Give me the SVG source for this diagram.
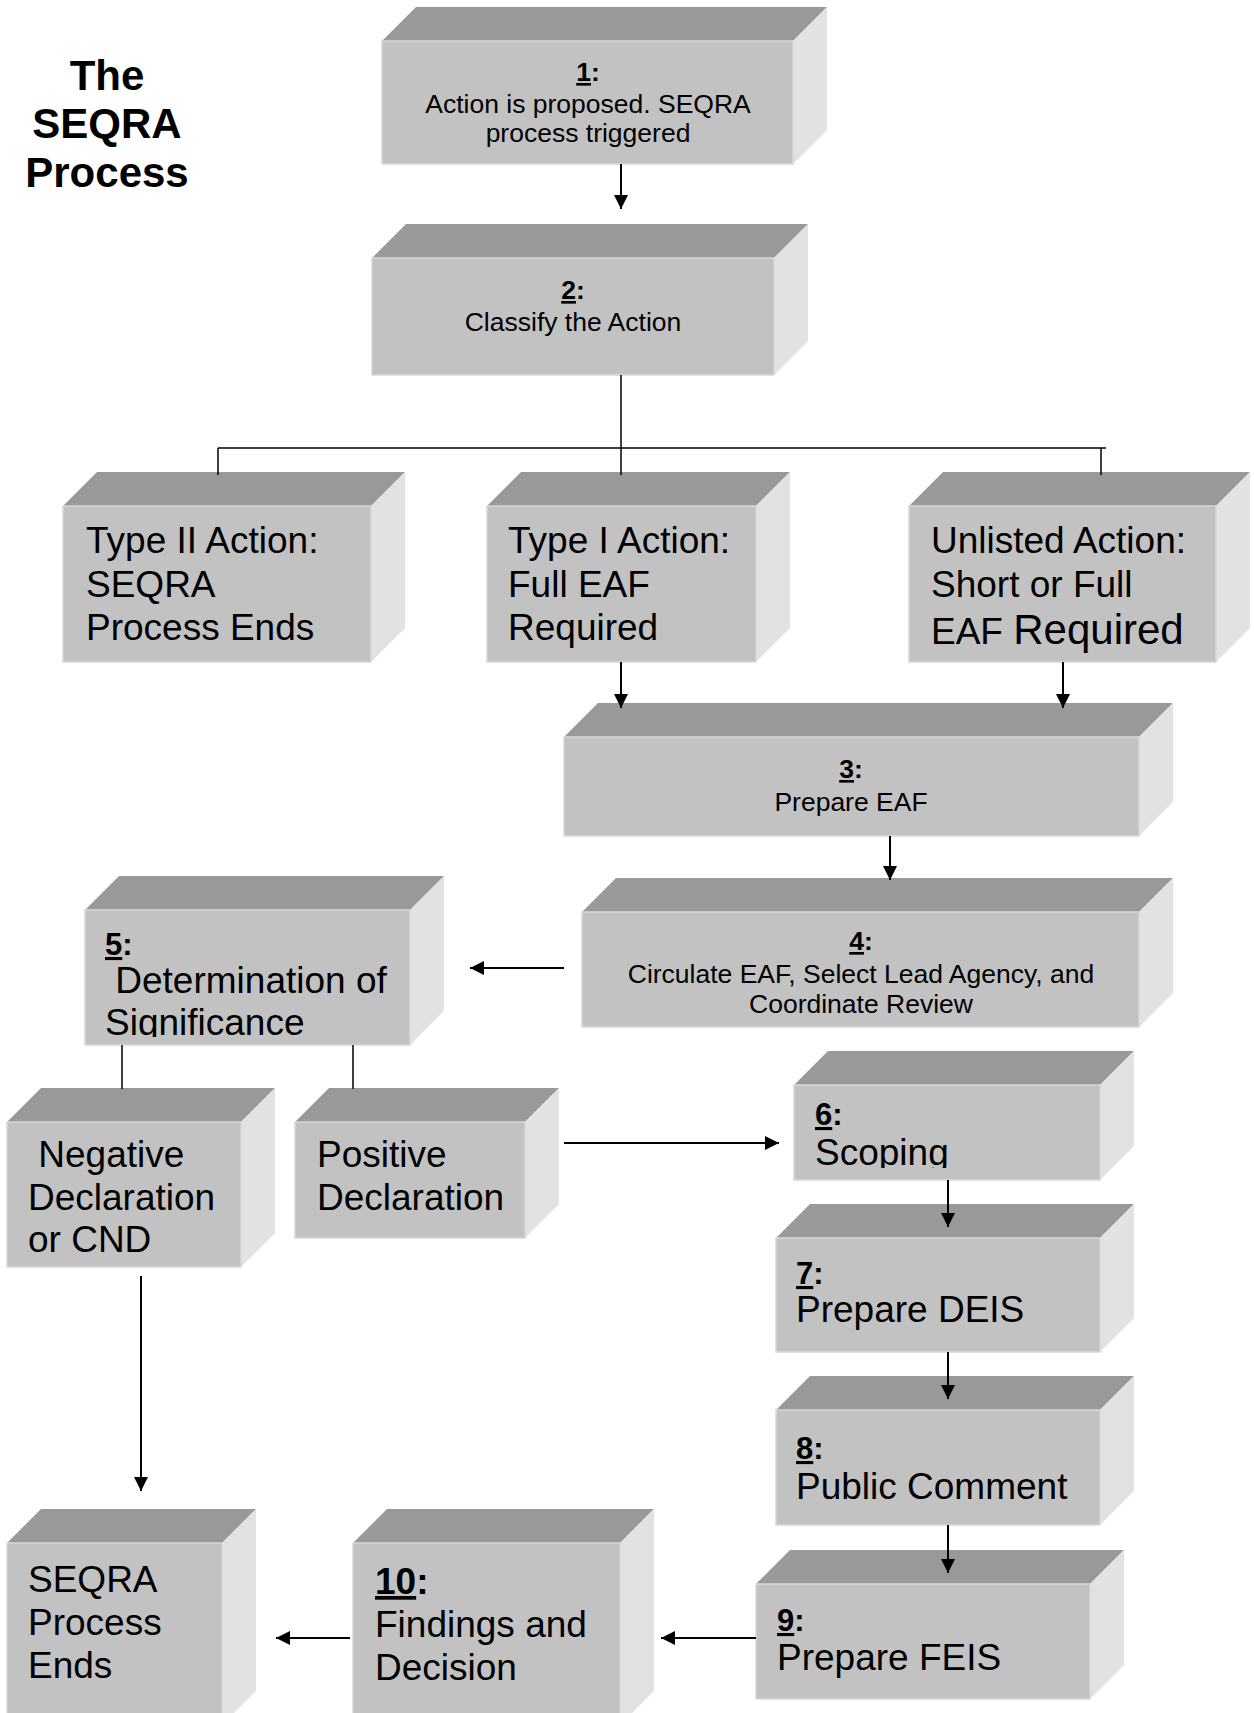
<svg xmlns="http://www.w3.org/2000/svg" width="1254" height="1713" viewBox="0 0 1254 1713">
  <style>
    .top { fill: #999999; }
    .side { fill: #e2e2e2; }
    .front { fill: #c2c2c2; stroke: #d8d8d8; stroke-width: 1.5; }
    text { font-family: "Liberation Sans", Arial, sans-serif; fill: #000; }
    .title { font-size: 42px; font-weight: bold; text-anchor: middle; }
    .sm { font-size: 26.5px; }
    .lg { font-size: 37px; }
    .num { font-weight: bold; }
    .u { text-decoration: underline; }
    .mid { text-anchor: middle; }
    .wire { stroke: #000; stroke-width: 2; fill: none; }
    .thin { stroke: #000; stroke-width: 1.5; fill: none; }
  </style>
  <defs>
    <marker id="head" viewBox="0 0 10 10" refX="10" refY="5" markerWidth="14" markerHeight="14" markerUnits="userSpaceOnUse" orient="auto">
      <path d="M0,0 L10,5 L0,10 z" fill="#000"/>
    </marker>
    <clipPath id="clip5"><rect x="85" y="910" width="325" height="127"/></clipPath>
    <clipPath id="clip6"><rect x="794" y="1085" width="306" height="83"/></clipPath>
  </defs>
  <rect width="1254" height="1713" fill="#fff"/>

  <text class="title" x="107" y="90">The</text>
  <text class="title" x="107" y="138">SEQRA</text>
  <text class="title" x="107" y="187">Process</text>

  <!-- step 1 -->
  <g id="step1">
    <polygon class="top" points="382,41 416,7 827,7 793,41"/>
    <polygon class="side" points="793,41 827,7 827,130 793,164"/>
    <rect class="front" x="382" y="41" width="411" height="123"/>
    <text class="sm mid" x="588" y="81"><tspan class="num u">1</tspan><tspan class="num">:</tspan></text>
    <text class="sm mid" x="588" y="113">Action is proposed. SEQRA</text>
    <text class="sm mid" x="588" y="142">process triggered</text>
  </g>

  <!-- step 2 -->
  <g id="step2">
    <polygon class="top" points="372,258 406,224 808,224 774,258"/>
    <polygon class="side" points="774,258 808,224 808,341 774,375"/>
    <rect class="front" x="372" y="258" width="402" height="117"/>
    <text class="sm mid" x="573" y="299"><tspan class="num u">2</tspan><tspan class="num">:</tspan></text>
    <text class="sm mid" x="573" y="331">Classify the Action</text>
  </g>

  <!-- type II -->
  <g id="typeII">
    <polygon class="top" points="63,506 97,472 405,472 371,506"/>
    <polygon class="side" points="371,506 405,472 405,628 371,662"/>
    <rect class="front" x="63" y="506" width="308" height="156"/>
    <text class="lg" x="86" y="553">Type II Action:</text>
    <text class="lg" x="86" y="597">SEQRA</text>
    <text class="lg" x="86" y="640">Process Ends</text>
  </g>

  <!-- type I -->
  <g id="typeI">
    <polygon class="top" points="487,506 521,472 790,472 756,506"/>
    <polygon class="side" points="756,506 790,472 790,628 756,662"/>
    <rect class="front" x="487" y="506" width="269" height="156"/>
    <text class="lg" x="508" y="553">Type I Action:</text>
    <text class="lg" x="508" y="597">Full EAF</text>
    <text class="lg" x="508" y="640">Required</text>
  </g>

  <!-- unlisted -->
  <g id="unlisted">
    <polygon class="top" points="909,506 943,472 1250,472 1216,506"/>
    <polygon class="side" points="1216,506 1250,472 1250,628 1216,662"/>
    <rect class="front" x="909" y="506" width="307" height="156"/>
    <text class="lg" x="931" y="553">Unlisted Action:</text>
    <text class="lg" x="931" y="597">Short or Full</text>
    <text class="lg" x="931" y="644">EAF <tspan font-size="42">Required</tspan></text>
  </g>

  <!-- step 3 -->
  <g id="step3">
    <polygon class="top" points="564,737 598,703 1173,703 1139,737"/>
    <polygon class="side" points="1139,737 1173,703 1173,802 1139,836"/>
    <rect class="front" x="564" y="737" width="575" height="99"/>
    <text class="sm mid" x="851" y="778"><tspan class="num u">3</tspan><tspan class="num">:</tspan></text>
    <text class="sm mid" x="851" y="811">Prepare EAF</text>
  </g>

  <!-- step 4 -->
  <g id="step4">
    <polygon class="top" points="582,912 616,878 1173,878 1139,912"/>
    <polygon class="side" points="1139,912 1173,878 1173,993 1139,1027"/>
    <rect class="front" x="582" y="912" width="557" height="115"/>
    <text class="sm mid" x="861" y="950"><tspan class="num u">4</tspan><tspan class="num">:</tspan></text>
    <text class="sm mid" x="861" y="983">Circulate EAF, Select Lead Agency, and</text>
    <text class="sm mid" x="861" y="1013">Coordinate Review</text>
  </g>

  <!-- step 5 -->
  <g id="step5">
    <polygon class="top" points="85,910 119,876 444,876 410,910"/>
    <polygon class="side" points="410,910 444,876 444,1011 410,1045"/>
    <rect class="front" x="85" y="910" width="325" height="135"/>
    <g clip-path="url(#clip5)">
      <text x="105" y="955" font-size="31"><tspan class="num u">5</tspan><tspan class="num">:</tspan></text>
      <text class="lg" x="105" y="993" xml:space="preserve"> Determination of</text>
      <text class="lg" x="105" y="1035">Significance</text>
    </g>
  </g>

  <!-- negative declaration -->
  <g id="negative">
    <polygon class="top" points="7,1122 41,1088 275,1088 241,1122"/>
    <polygon class="side" points="241,1122 275,1088 275,1233 241,1267"/>
    <rect class="front" x="7" y="1122" width="234" height="145"/>
    <text class="lg" x="28" y="1167" xml:space="preserve"> Negative</text>
    <text class="lg" x="28" y="1210">Declaration</text>
    <text class="lg" x="28" y="1252">or CND</text>
  </g>

  <!-- positive declaration -->
  <g id="positive">
    <polygon class="top" points="295,1122 329,1088 559,1088 525,1122"/>
    <polygon class="side" points="525,1122 559,1088 559,1204 525,1238"/>
    <rect class="front" x="295" y="1122" width="230" height="116"/>
    <text class="lg" x="317" y="1167">Positive</text>
    <text class="lg" x="317" y="1210">Declaration</text>
  </g>

  <!-- step 6 -->
  <g id="step6">
    <polygon class="top" points="794,1085 828,1051 1134,1051 1100,1085"/>
    <polygon class="side" points="1100,1085 1134,1051 1134,1146 1100,1180"/>
    <rect class="front" x="794" y="1085" width="306" height="95"/>
    <g clip-path="url(#clip6)">
      <text x="815" y="1125" font-size="31"><tspan class="num u">6</tspan><tspan class="num">:</tspan></text>
      <text class="lg" x="815" y="1165">Scoping</text>
    </g>
  </g>

  <!-- step 7 -->
  <g id="step7">
    <polygon class="top" points="776,1238 810,1204 1134,1204 1100,1238"/>
    <polygon class="side" points="1100,1238 1134,1204 1134,1318 1100,1352"/>
    <rect class="front" x="776" y="1238" width="324" height="114"/>
    <text x="796" y="1284" font-size="31"><tspan class="num u">7</tspan><tspan class="num">:</tspan></text>
    <text class="lg" x="796" y="1322">Prepare DEIS</text>
  </g>

  <!-- step 8 -->
  <g id="step8">
    <polygon class="top" points="776,1410 810,1376 1134,1376 1100,1410"/>
    <polygon class="side" points="1100,1410 1134,1376 1134,1491 1100,1525"/>
    <rect class="front" x="776" y="1410" width="324" height="115"/>
    <text x="796" y="1459" font-size="31"><tspan class="num u">8</tspan><tspan class="num">:</tspan></text>
    <text class="lg" x="796" y="1499">Public Comment</text>
  </g>

  <!-- step 9 -->
  <g id="step9">
    <polygon class="top" points="756,1584 790,1550 1124,1550 1090,1584"/>
    <polygon class="side" points="1090,1584 1124,1550 1124,1665 1090,1699"/>
    <rect class="front" x="756" y="1584" width="334" height="115"/>
    <text x="777" y="1631" font-size="31"><tspan class="num u">9</tspan><tspan class="num">:</tspan></text>
    <text class="lg" x="777" y="1670">Prepare FEIS</text>
  </g>

  <!-- step 10 -->
  <g id="step10">
    <polygon class="top" points="353,1543 387,1509 654,1509 620,1543"/>
    <polygon class="side" points="620,1543 654,1509 654,1691 620,1725"/>
    <rect class="front" x="353" y="1543" width="267" height="182"/>
    <text x="375" y="1594" font-size="37"><tspan class="num u">10</tspan><tspan class="num">:</tspan></text>
    <text class="lg" x="375" y="1637">Findings and</text>
    <text class="lg" x="375" y="1680">Decision</text>
  </g>

  <!-- end of process -->
  <g id="ends">
    <polygon class="top" points="7,1543 41,1509 256,1509 222,1543"/>
    <polygon class="side" points="222,1543 256,1509 256,1691 222,1725"/>
    <rect class="front" x="7" y="1543" width="215" height="182"/>
    <text class="lg" x="28" y="1592">SEQRA</text>
    <text class="lg" x="28" y="1635">Process</text>
    <text class="lg" x="28" y="1678">Ends</text>
  </g>

  <!-- connectors, drawn over the blocks so arrowheads sit on the top faces -->
  <g id="connectors">
    <line class="wire" x1="621" y1="164" x2="621" y2="209" marker-end="url(#head)"/>
    <line class="thin" x1="621" y1="375" x2="621" y2="448"/>
    <line class="thin" x1="218" y1="448" x2="1106" y2="448"/>
    <line class="thin" x1="218" y1="448" x2="218" y2="475"/>
    <line class="thin" x1="621" y1="448" x2="621" y2="475"/>
    <line class="thin" x1="1101" y1="448" x2="1101" y2="475"/>
    <line class="wire" x1="621" y1="662" x2="621" y2="708" marker-end="url(#head)"/>
    <line class="wire" x1="1063" y1="662" x2="1063" y2="708" marker-end="url(#head)"/>
    <line class="wire" x1="890" y1="836" x2="890" y2="880" marker-end="url(#head)"/>
    <line class="wire" x1="564" y1="968" x2="470" y2="968" marker-end="url(#head)"/>
    <line class="thin" x1="122" y1="1045" x2="122" y2="1089"/>
    <line class="thin" x1="353" y1="1045" x2="353" y2="1089"/>
    <line class="wire" x1="564" y1="1143" x2="779" y2="1143" marker-end="url(#head)"/>
    <line class="wire" x1="948" y1="1180" x2="948" y2="1227" marker-end="url(#head)"/>
    <line class="wire" x1="948" y1="1352" x2="948" y2="1399" marker-end="url(#head)"/>
    <line class="wire" x1="948" y1="1525" x2="948" y2="1573" marker-end="url(#head)"/>
    <line class="wire" x1="756" y1="1638" x2="661" y2="1638" marker-end="url(#head)"/>
    <line class="wire" x1="350" y1="1638" x2="276" y2="1638" marker-end="url(#head)"/>
    <line class="wire" x1="141" y1="1276" x2="141" y2="1491" marker-end="url(#head)"/>
  </g>
</svg>
